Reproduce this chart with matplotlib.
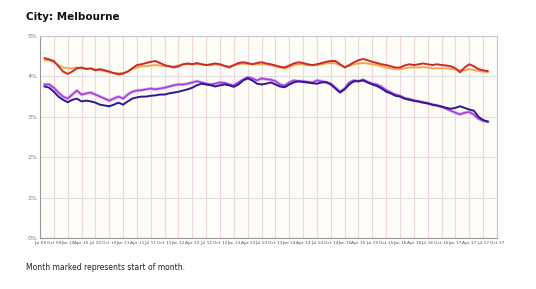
import matplotlib.pyplot as plt
import numpy as np

# monthly values, Aug 2009 .. Aug 2017 (month 1 = Aug 2009, 0 = Jul 2009)
red = [4.45, 4.42, 4.38, 4.25, 4.12, 4.06, 4.12, 4.20, 4.22, 4.18, 4.20, 4.15, 4.18, 4.15, 4.12, 4.08,
       4.05, 4.07, 4.12, 4.20, 4.28, 4.30, 4.33, 4.36, 4.38, 4.33, 4.28, 4.25, 4.22, 4.25, 4.30, 4.32,
       4.30, 4.33, 4.30, 4.28, 4.30, 4.32, 4.30, 4.26, 4.22, 4.28, 4.33, 4.35, 4.33, 4.30, 4.33, 4.35,
       4.32, 4.30, 4.27, 4.24, 4.22, 4.27, 4.32, 4.35, 4.33, 4.30, 4.28, 4.30, 4.33, 4.36, 4.38, 4.38,
       4.30, 4.22, 4.28, 4.35, 4.40, 4.43, 4.40, 4.36, 4.33, 4.30, 4.28, 4.25, 4.22, 4.22, 4.27, 4.30,
       4.28, 4.30, 4.32, 4.30, 4.28, 4.30, 4.28, 4.27, 4.25, 4.20, 4.10, 4.22, 4.30, 4.25, 4.18, 4.15,
       4.13]
orange = [4.40, 4.40, 4.35, 4.28, 4.22, 4.20, 4.20, 4.22, 4.20, 4.20, 4.18, 4.17, 4.15, 4.13, 4.10, 4.08,
          4.08, 4.08, 4.12, 4.18, 4.22, 4.25, 4.25, 4.27, 4.28, 4.27, 4.25, 4.25, 4.25, 4.27, 4.30, 4.30,
          4.30, 4.30, 4.30, 4.28, 4.28, 4.30, 4.28, 4.26, 4.25, 4.27, 4.30, 4.32, 4.30, 4.30, 4.30, 4.30,
          4.30, 4.28, 4.25, 4.22, 4.20, 4.23, 4.28, 4.30, 4.30, 4.28, 4.27, 4.28, 4.30, 4.32, 4.33, 4.32,
          4.28, 4.23, 4.26, 4.30, 4.32, 4.33, 4.32, 4.30, 4.28, 4.25, 4.22, 4.20, 4.18, 4.18, 4.20, 4.22,
          4.22, 4.22, 4.23, 4.22, 4.20, 4.20, 4.20, 4.20, 4.18, 4.17, 4.15, 4.15, 4.18, 4.16, 4.13, 4.12,
          4.10]
purple = [3.75, 3.72, 3.62, 3.50, 3.42, 3.36, 3.42, 3.45, 3.38, 3.40, 3.38, 3.35, 3.30, 3.28, 3.26, 3.30,
          3.35, 3.30, 3.38, 3.45, 3.48, 3.50, 3.50, 3.52, 3.53, 3.55, 3.55, 3.58, 3.60, 3.62, 3.65, 3.68,
          3.72, 3.78, 3.82, 3.80, 3.78, 3.75, 3.78, 3.80, 3.78, 3.74, 3.80, 3.90, 3.95, 3.90, 3.82, 3.80,
          3.82, 3.85, 3.80, 3.75, 3.73, 3.80, 3.85, 3.88, 3.86, 3.85, 3.83, 3.82, 3.85, 3.86, 3.80, 3.70,
          3.60, 3.68, 3.80, 3.88, 3.88, 3.90, 3.85, 3.80, 3.76, 3.70, 3.62, 3.58, 3.52, 3.50, 3.45, 3.42,
          3.40, 3.38, 3.35, 3.33, 3.30, 3.28, 3.25, 3.22, 3.20, 3.22, 3.26, 3.22, 3.18, 3.15, 3.00, 2.92,
          2.88]
violet = [3.80, 3.80, 3.72, 3.60, 3.50, 3.45, 3.55, 3.65, 3.55, 3.58, 3.60, 3.55, 3.50, 3.45, 3.40, 3.45,
          3.50, 3.45, 3.55, 3.62, 3.65, 3.66, 3.68, 3.70, 3.68, 3.70, 3.72, 3.75, 3.78, 3.80, 3.80, 3.82,
          3.85, 3.88, 3.85, 3.82, 3.80, 3.82, 3.85, 3.84, 3.80, 3.78, 3.85, 3.92, 3.98, 3.95, 3.90, 3.95,
          3.93, 3.92, 3.88, 3.80, 3.77, 3.85, 3.90, 3.88, 3.88, 3.86, 3.85, 3.90, 3.88, 3.85, 3.82, 3.72,
          3.62, 3.70, 3.85, 3.90, 3.88, 3.92, 3.86, 3.82, 3.80, 3.74, 3.66, 3.60, 3.55, 3.52, 3.46, 3.44,
          3.40, 3.38, 3.36, 3.34, 3.30, 3.28, 3.25, 3.20, 3.15, 3.10, 3.06, 3.10, 3.12, 3.05, 2.95, 2.90,
          2.88]

months = np.arange(1, len(red) + 1)
mon_names = ['Jul', 'Oct', 'Jan', 'Apr']
tick_pos = np.arange(0, 100, 3)
tick_labels = []
for i, p in enumerate(tick_pos):
    yr = 9 + (p + 6) // 12
    tick_labels.append('%s %02d' % (mon_names[i % 4], yr))

fig = plt.figure(figsize=(5.36, 2.89), dpi=100)
ax = fig.add_axes([0.0746, 0.1765, 0.8526, 0.699])
ax.set_facecolor('#fffdf7')

ax.plot(months, orange, color='#f0a848', lw=1.4)
ax.plot(months, red, color='#cc2a2a', lw=1.4)
ax.plot(months, violet, color='#c070ee', lw=2.2, alpha=0.6)
ax.plot(months, violet, color='#a43ce0', lw=1.1)
ax.plot(months, purple, color='#2e1890', lw=1.4)

ax.set_xlim(0, 99)
ax.set_ylim(0, 5)
ax.set_yticks(np.arange(0, 6))
ax.set_yticklabels(['%d%%' % v for v in range(6)], fontsize=4.5, color='#777777')
ax.set_xticks(tick_pos)
ax.set_xticklabels(tick_labels, fontsize=3.2, color='#555555')
ax.tick_params(length=0, pad=2)
ax.grid(axis='x', color='#ecd8d8', lw=0.8)
ax.grid(axis='y', color='#e0e0e0', lw=0.8)
ax.set_axisbelow(True)
for s in ax.spines.values():
    s.set_color('#c8c8c8')
    s.set_linewidth(0.8)
ax.spines['left'].set_color('#999999')
ax.spines['bottom'].set_color('#999999')

fig.text(0.0485, 0.931, 'City: Melbourne', fontsize=7.5, fontweight='bold', color='#111111')
fig.text(0.0485, 0.065, 'Month marked represents start of month.', fontsize=5.5, color='#222222')

fig.savefig('out.png', dpi=100)
